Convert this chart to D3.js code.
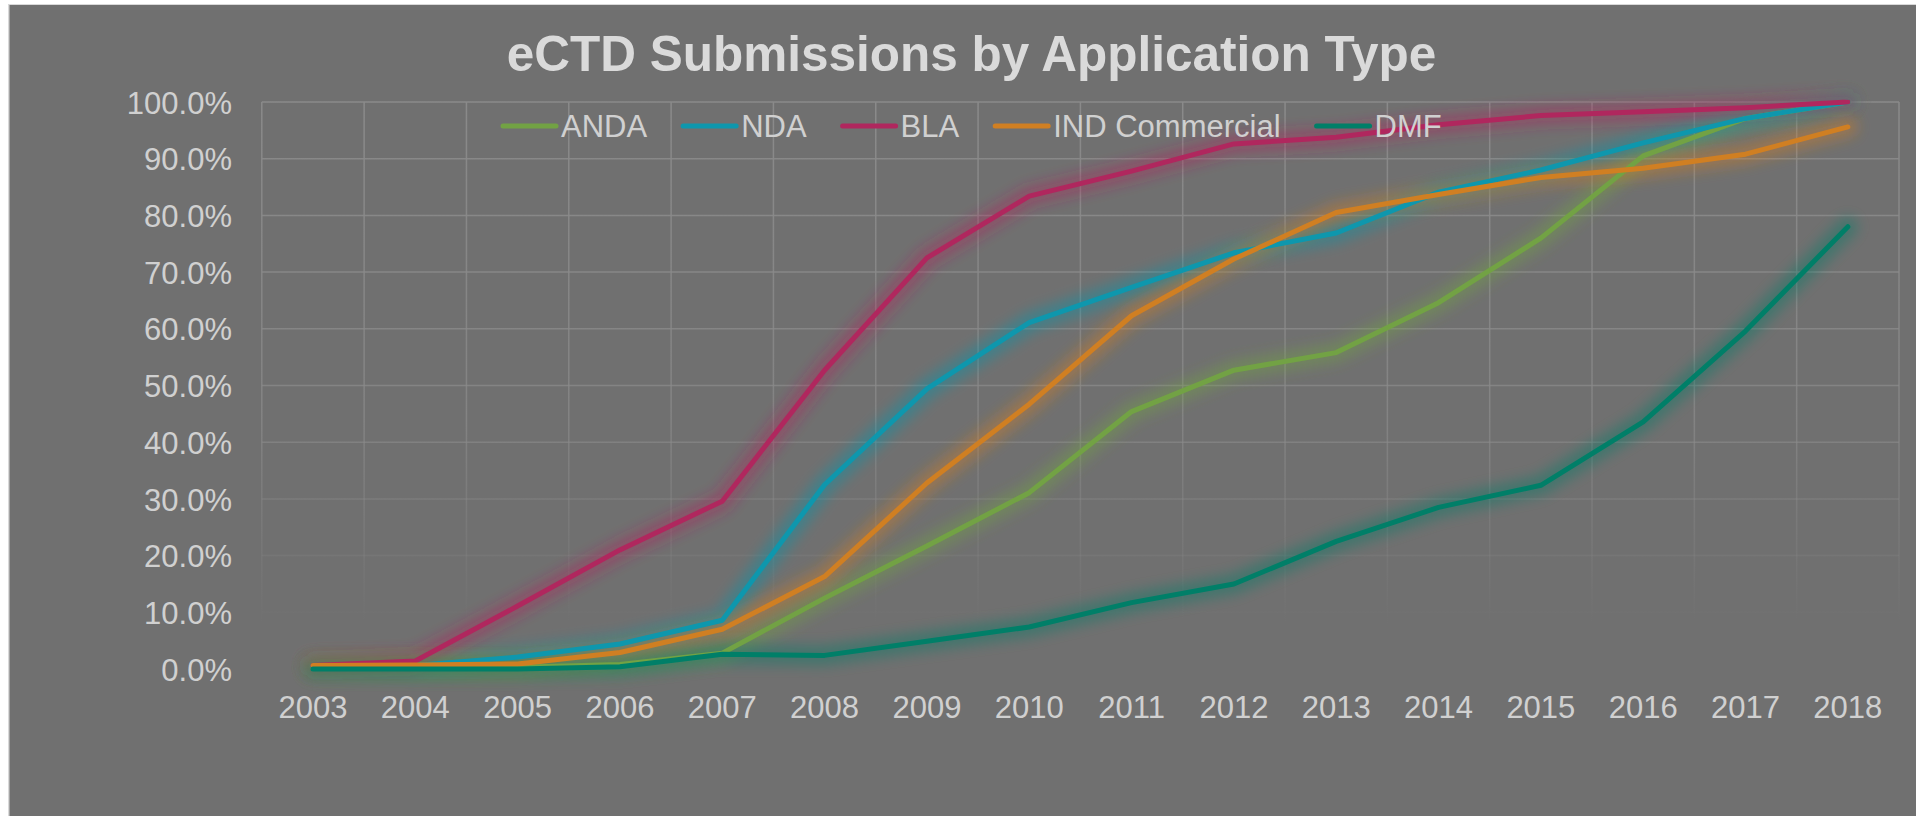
<!DOCTYPE html>
<html>
<head>
<meta charset="utf-8">
<script src="https://cdn.jsdelivr.net/npm/d3@7"></script>
<style>
  html, body { margin: 0; padding: 0; background: #ffffff; overflow: hidden; }
  svg { display: block; }
</style>
</head>
<body>
<svg id="chart" width="1916" height="816"></svg>
<script>
// ---- data (percent) ----
const years = ["2003","2004","2005","2006","2007","2008","2009","2010","2011","2012","2013","2014","2015","2016","2017","2018"];
const seriesNames = ["ANDA", "NDA", "BLA", "IND Commercial", "DMF"];
const seriesColors = ["#72a244", "#0e97ad", "#b0275e", "#d07f22", "#007f68"];
const anda = [0.1, 0.2, 0.3, 0.8, 2.8, 12.5, 21.7, 31.1, 45.4, 52.7, 55.8, 64.6, 76.0, 90.5, 97.1, 100];
const nda  = [0.5, 0.6, 2.1, 4.4, 8.6, 32.5, 49.4, 61.1, 67.3, 73.4, 76.9, 84.1, 88.0, 92.8, 97.1, 100];
const bla  = [0.6, 1.4, 11.1, 21.0, 29.6, 52.7, 72.5, 83.4, 87.8, 92.6, 93.8, 96.0, 97.6, 98.3, 99.0, 100];
const ind  = [0.6, 0.7, 0.9, 2.9, 7.0, 16.3, 32.8, 46.7, 62.3, 72.3, 80.5, 83.7, 86.7, 88.3, 90.8, 95.6];
const dmf  = [0.0, 0.0, 0.0, 0.4, 2.6, 2.4, 4.9, 7.4, 11.7, 15.0, 22.5, 28.5, 32.4, 43.6, 59.6, 78.0];
const yTicks = [0, 10, 20, 30, 40, 50, 60, 70, 80, 90, 100];
const titleText = "eCTD Submissions by Application Type";

const seriesValues = [anda, nda, bla, ind, dmf];
const series = seriesNames.map((n, i) => ({ name: n, color: seriesColors[i], values: seriesValues[i] }));

// ---- layout ----
const FONT = "'Liberation Sans', Arial, sans-serif";
const plot = { left: 261.8, right: 1899, top: 102, bottom: 669 };
const svg = d3.select("#chart");

const defs = svg.append("defs");
const glow = defs.append("filter").attr("id", "glow")
  .attr("x", "-10%").attr("y", "-20%").attr("width", "120%").attr("height", "140%")
  .attr("filterUnits", "objectBoundingBox");
glow.append("feGaussianBlur").attr("stdDeviation", 6.5);

const grad = defs.append("linearGradient").attr("id", "gridGrad")
  .attr("gradientUnits", "userSpaceOnUse")
  .attr("x1", 0).attr("x2", 0).attr("y1", plot.top).attr("y2", plot.bottom);
grad.append("stop").attr("offset", "0").attr("stop-color", "#8a8a8a").attr("stop-opacity", 1);
grad.append("stop").attr("offset", "0.55").attr("stop-color", "#8a8a8a").attr("stop-opacity", 0.75);
grad.append("stop").attr("offset", "0.92").attr("stop-color", "#8a8a8a").attr("stop-opacity", 0);
grad.append("stop").attr("offset", "1").attr("stop-color", "#8a8a8a").attr("stop-opacity", 0);

// background
svg.append("rect").attr("x", 8).attr("y", 4).attr("width", 1908).attr("height", 812).attr("fill", "#d9d9d9");
svg.append("rect").attr("x", 9.5).attr("y", 5).attr("width", 1907).attr("height", 811).attr("fill", "#707070");

// scales
const x = d3.scaleBand().domain(years).range([plot.left, plot.right]).padding(0);
const xc = d => x(d) + x.bandwidth() / 2;
const y = d3.scaleLinear().domain([0, 100]).range([plot.bottom, plot.top]);

// grid
const grid = svg.append("g");
grid.selectAll("line.h").data(yTicks).join("line")
  .attr("x1", plot.left).attr("x2", plot.right)
  .attr("y1", d => y(d)).attr("y2", d => y(d))
  .attr("stroke", "url(#gridGrad)").attr("stroke-width", 1.5);
const edges = years.map(d => x(d)).concat([plot.right]);
grid.selectAll("line.v").data(edges).join("line")
  .attr("x1", d => d).attr("x2", d => d)
  .attr("y1", plot.top).attr("y2", plot.bottom)
  .attr("stroke", "url(#gridGrad)").attr("stroke-width", 1.5);

// axes
const yAxis = svg.append("g").attr("transform", `translate(${232},0)`)
  .call(d3.axisLeft(y).tickValues(yTicks).tickSize(0).tickPadding(0).tickFormat(d => d.toFixed(1) + "%"));
yAxis.select(".domain").remove();
yAxis.selectAll("text").attr("fill", "#d0d0d0").attr("font-family", FONT).attr("font-size", 31)
  .attr("dy", "0.36em").attr("x", 0);

const xAxis = svg.append("g").attr("transform", `translate(0,${plot.bottom})`)
  .call(d3.axisBottom(x).tickSize(0).tickPadding(0));
xAxis.select(".domain").remove();
xAxis.selectAll("text").attr("fill", "#d0d0d0").attr("font-family", FONT).attr("font-size", 31)
  .attr("y", 48.7).attr("dy", 0);

// lines
const line = d3.line().x((d, i) => xc(years[i])).y(d => y(d));
const glows = svg.append("g");
glows.selectAll("path").data(series).join("path")
  .attr("d", s => line(s.values))
  .attr("fill", "none").attr("stroke", s => s.color)
  .attr("stroke-width", 20).attr("stroke-opacity", 0.42)
  .attr("stroke-linejoin", "round").attr("stroke-linecap", "round")
  .attr("filter", "url(#glow)");
svg.append("g").selectAll("path").data(series).join("path")
  .attr("d", s => line(s.values))
  .attr("fill", "none").attr("stroke", s => s.color)
  .attr("stroke-width", 5)
  .attr("stroke-linejoin", "round").attr("stroke-linecap", "round");

// title
svg.append("text").attr("x", 971.5).attr("y", 71).attr("text-anchor", "middle")
  .attr("font-family", FONT).attr("font-weight", "bold").attr("font-size", 49.5)
  .attr("fill", "#dadada").text(titleText);

// legend
const legend = svg.append("g");
let lx = 503;
const ly = 126;
series.forEach(s => {
  legend.append("line").attr("x1", lx).attr("x2", lx + 53).attr("y1", ly).attr("y2", ly)
    .attr("stroke", s.color).attr("stroke-width", 5).attr("stroke-linecap", "round");
  const t = legend.append("text").attr("x", lx + 58).attr("y", ly).attr("dy", "0.36em")
    .attr("font-family", FONT).attr("font-size", 31).attr("fill", "#d0d0d0").text(s.name);
  const w = t.node().getComputedTextLength();
  lx = lx + 58 + w + 36;
});
</script>
</body>
</html>
